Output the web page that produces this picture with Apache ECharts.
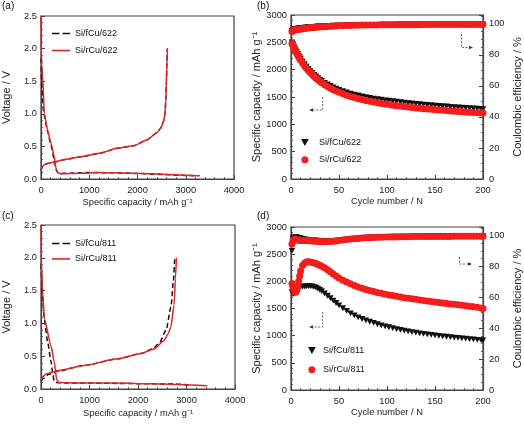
<!DOCTYPE html>
<html><head><meta charset="utf-8">
<script src="https://cdn.jsdelivr.net/npm/echarts@6/dist/echarts.min.js"></script>
<style>html,body{margin:0;padding:0;background:#fff}#c{width:524px;height:424px}</style>
</head><body><div id="c"></div>
<script>
// ---------- DATA ----------
// (a) voltage profiles, 622
const a_f_dis_cap = [0, 8, 30, 60, 137, 206, 274, 310, 345, 400, 600, 1000, 1500, 2000, 2500, 3000, 3250];
const a_f_dis_v   = [1.85, 1.62, 1.25, 1.0, 0.73, 0.52, 0.3, 0.15, 0.1, 0.085, 0.09, 0.1, 0.095, 0.085, 0.07, 0.055, 0.05];
const a_f_ch_cap  = [0, 20, 69, 150, 274, 500, 892, 1235, 1578, 1921, 2196, 2401, 2480, 2539, 2570, 2587, 2600, 2607, 2618];
const a_f_ch_v    = [0.13, 0.18, 0.22, 0.24, 0.26, 0.30, 0.35, 0.40, 0.47, 0.51, 0.60, 0.71, 0.78, 0.88, 1.0, 1.21, 1.5, 1.72, 2.0];
const a_r_dis_cap = [0, 2, 5, 15, 34, 69, 137, 206, 274, 309, 340, 370, 420, 500, 700, 900, 1235, 1500, 1921, 2300, 2607, 2900, 3100, 3293];
const a_r_dis_v   = [2.5, 2.2, 1.95, 1.75, 1.57, 1.0, 0.75, 0.55, 0.35, 0.17, 0.11, 0.09, 0.08, 0.08, 0.085, 0.09, 0.10, 0.095, 0.09, 0.08, 0.07, 0.06, 0.055, 0.05];
const a_r_ch_cap  = [0, 20, 69, 150, 274, 500, 892, 1235, 1578, 1921, 2196, 2401, 2480, 2539, 2570, 2587, 2600, 2607, 2621];
const a_r_ch_v    = [0.13, 0.18, 0.22, 0.24, 0.26, 0.30, 0.35, 0.40, 0.47, 0.51, 0.60, 0.71, 0.78, 0.88, 1.0, 1.21, 1.5, 1.72, 2.0];
// (c) voltage profiles, 811
const c_f_dis_cap = [0, 5, 40, 69, 137, 206, 240, 270, 300, 500, 1000, 1600, 2200, 2800, 3050];
const c_f_dis_v   = [1.9, 1.79, 1.3, 1.05, 0.72, 0.42, 0.25, 0.13, 0.1, 0.09, 0.09, 0.085, 0.08, 0.075, 0.06];
const c_f_ch_cap  = [0, 50, 150, 343, 892, 1578, 2058, 2300, 2440, 2580, 2680, 2730, 2758];
const c_f_ch_v    = [0.12, 0.16, 0.22, 0.27, 0.36, 0.46, 0.54, 0.61, 0.70, 0.90, 1.25, 1.65, 2.0];
const c_r_dis_cap = [0, 3, 34, 69, 206, 274, 322, 357, 500, 1000, 1600, 2264, 2813, 3100, 3430];
const c_r_dis_v   = [2.5, 2.0, 1.5, 1.07, 0.66, 0.41, 0.15, 0.10, 0.095, 0.09, 0.09, 0.08, 0.07, 0.06, 0.05];
const c_r_ch_cap  = [0, 30, 103, 343, 892, 1578, 2058, 2333, 2539, 2620, 2676, 2744, 2772, 2792];
const c_r_ch_v    = [0.13, 0.18, 0.23, 0.28, 0.36, 0.46, 0.54, 0.61, 0.74, 0.84, 0.94, 1.28, 1.68, 2.0];

// cycling data
const cycles = [1,2,3,4,5,6,7,8,9,10,12,14,16,18,20,22,24,26,28,30,32,35,38,41,44,47,50,54,58,62,66,70,74,78,82,86,90,94,98,102,106,110,114,118,122,126,130,134,138,142,146,150,154,158,162,166,170,174,178,182,186,190,194,198,200];
const b_f_cap = [2500,2460,2420,2385,2350,2318,2287,2257,2228,2200,2148,2100,2055,2013,1975,1940,1906,1875,1846,1819,1794,1760,1729,1701,1676,1653,1632,1607,1584,1563,1544,1527,1511,1497,1484,1472,1461,1450,1440,1431,1422,1413,1405,1397,1389,1382,1375,1368,1361,1355,1349,1343,1337,1331,1326,1320,1315,1310,1305,1300,1295,1290,1286,1282,1280];
const b_r_cap = [2480,2440,2400,2365,2330,2297,2265,2234,2204,2176,2122,2073,2027,1985,1946,1910,1876,1844,1814,1786,1760,1724,1691,1661,1634,1609,1586,1558,1533,1510,1489,1470,1453,1437,1422,1408,1395,1383,1372,1361,1351,1342,1333,1324,1316,1308,1301,1294,1287,1280,1274,1268,1262,1256,1251,1246,1241,1236,1231,1227,1222,1218,1214,1210,1208];
const b_f_ce = [95.4,95.9,96.2,96.4,96.6,96.7,96.8,96.9,97.0,97.1,97.3,97.4,97.6,97.7,97.8,97.9,98.0,98.1,98.2,98.2,98.3,98.4,98.5,98.6,98.7,98.8,98.8,98.9,99.0,99.0,99.1,99.1,99.2,99.2,99.3,99.3,99.3,99.4,99.4,99.4,99.4,99.5,99.5,99.5,99.5,99.5,99.5,99.5,99.6,99.6,99.6,99.6,99.6,99.6,99.6,99.6,99.6,99.6,99.6,99.6,99.6,99.6,99.6,99.6,99.6];
const b_r_ce = [95.0,95.5,95.8,96.0,96.1,96.2,96.3,96.4,96.5,96.6,96.8,96.9,97.1,97.2,97.4,97.5,97.6,97.7,97.8,97.9,98.0,98.1,98.2,98.3,98.4,98.5,98.6,98.7,98.8,98.9,99.0,99.0,99.1,99.1,99.2,99.2,99.2,99.3,99.3,99.3,99.3,99.4,99.4,99.4,99.4,99.4,99.4,99.4,99.5,99.5,99.5,99.5,99.5,99.5,99.5,99.5,99.5,99.5,99.5,99.5,99.5,99.5,99.5,99.5,99.5];
const d_f_cap = [1800,1775,1765,1790,1830,1860,1878,1888,1894,1898,1902,1905,1908,1910,1910,1906,1897,1883,1865,1843,1818,1778,1735,1690,1645,1601,1558,1505,1456,1412,1373,1338,1307,1280,1256,1234,1210,1190,1172,1155,1138,1122,1107,1093,1080,1067,1055,1044,1033,1023,1013,1004,996,988,980,972,965,958,951,944,937,930,923,918,915];
const d_r_cap = [1960,1900,1850,1810,1800,1835,1910,2000,2100,2190,2290,2335,2355,2360,2355,2348,2338,2326,2312,2296,2278,2250,2215,2175,2135,2097,2062,2022,1986,1954,1925,1898,1873,1851,1831,1812,1795,1779,1764,1750,1737,1724,1712,1700,1689,1678,1668,1658,1648,1639,1630,1621,1612,1603,1594,1585,1576,1567,1558,1549,1540,1531,1521,1508,1500];
const d_f_ce = [90.0,98.0,98.6,98.8,98.8,98.7,98.6,98.4,98.3,98.1,97.8,97.5,97.3,97.1,97.0,96.9,96.8,96.7,96.6,96.5,96.4,96.3,96.3,96.4,96.5,96.7,96.9,97.2,97.5,97.8,98.0,98.2,98.4,98.6,98.7,98.8,98.9,99.0,99.1,99.1,99.2,99.2,99.3,99.3,99.3,99.4,99.4,99.4,99.4,99.5,99.5,99.5,99.5,99.5,99.5,99.5,99.6,99.6,99.6,99.6,99.6,99.6,99.6,99.6,99.6];
const d_r_ce = [94.5,96.5,97.4,97.8,97.6,97.3,97.1,97.0,96.9,96.9,96.8,96.8,96.7,96.6,96.6,96.5,96.4,96.3,96.2,96.1,96.0,96.0,96.0,96.1,96.3,96.5,96.8,97.1,97.4,97.7,97.9,98.1,98.3,98.5,98.6,98.7,98.8,98.9,99.0,99.0,99.1,99.1,99.2,99.2,99.2,99.3,99.3,99.3,99.3,99.4,99.4,99.4,99.4,99.4,99.4,99.4,99.5,99.5,99.5,99.5,99.5,99.5,99.5,99.5,99.5];

const namesA = ['a:Si/fCu/622', 'a:Si/rCu/622'];
const namesB = ['b:Si/fCu/622', 'b:Si/rCu/622'];
const namesC = ['c:Si/fCu/811', 'c:Si/rCu/811'];
const namesD = ['d:Si/fCu/811', 'd:Si/rCu/811'];

// ---------- STYLE ----------
const FONT = "'Liberation Sans',Arial,sans-serif";
const AX = '#444';
const RED_L = '#e02428';
const RED_M = '#f41c1c';
const BLK = '#111';
const TRI = 'path://M0,0L10,0L5,9Z';
const ICON_DASH = 'path://M0,0H7.5V1.6H0Z M10.5,0H18V1.6H10.5Z';
const ICON_SOLID = 'path://M0,0H18V1.6H0Z';
const TICK_FS = 9.3;
const XNAME_FS = 9.3;
const YNAME_FS = 11;

const zip = (xs, ys) => xs.map((x, i) => [x, ys[i]]);

function lbl(extra) {
  return Object.assign({ fontFamily: FONT, fontSize: TICK_FS, color: '#222', formatter: v => String(v) }, extra);
}
function axisBase(extra, nameFs) {
  return Object.assign({
    type: 'value',
    axisLine: { show: true, onZero: false, lineStyle: { color: AX, width: 1.2 } },
    axisTick: { show: true, inside: true, length: 4, lineStyle: { color: AX, width: 1 } },
    minorTick: { show: true, splitNumber: 5, length: 2, lineStyle: { color: AX, width: 0.8 } },
    splitLine: { show: false },
    nameLocation: 'middle',
    nameTextStyle: { fontFamily: FONT, fontSize: nameFs, color: '#222' }
  }, extra);
}
const capName = 'Specific capacity / mAh g\u207B\u00B9';

const grids = [
  { left: 40, right: 290, top: 16, bottom: 245 },
  { left: 291, right: 40, top: 15, bottom: 245 },
  { left: 40, right: 289, top: 225, bottom: 35 },
  { left: 291, right: 40, top: 227, bottom: 34 }
].map(g => Object.assign({ show: true, borderColor: AX, borderWidth: 1.2, backgroundColor: 'transparent' }, g));

const xAxes = [
  axisBase({ gridIndex: 0, min: 0, max: 4000, interval: 1000, name: capName, nameGap: 19, axisLabel: lbl({ margin: 7 }) }, XNAME_FS),
  axisBase({ gridIndex: 1, min: 0, max: 200, interval: 50, name: 'Cycle number / N', nameGap: 18, axisLabel: lbl({ margin: 7 }) }, XNAME_FS),
  axisBase({ gridIndex: 2, min: 0, max: 4000, interval: 1000, name: capName, nameGap: 20, axisLabel: lbl({ margin: 7 }) }, XNAME_FS),
  axisBase({ gridIndex: 3, min: 0, max: 200, interval: 50, name: 'Cycle number / N', nameGap: 18, axisLabel: lbl({ margin: 7 }) }, XNAME_FS)
];
const ceFmt = v => (Math.abs(v % 20) < 1e-6 ? String(v) : '');
const ceMinor = { show: true, splitNumber: 4, length: 2, lineStyle: { color: AX, width: 0.8 } };
const yAxes = [
  axisBase({ gridIndex: 0, min: 0, max: 2.5, interval: 0.5, name: 'Voltage / V', nameGap: 29, axisLabel: lbl({ margin: 4, formatter: v => v.toFixed(1) }) }, YNAME_FS),
  axisBase({ gridIndex: 1, min: 0, max: 3000, interval: 500, name: capName, nameGap: 29, axisLabel: lbl({ margin: 4 }) }, YNAME_FS),
  axisBase({ gridIndex: 1, min: 0, max: 105.6, interval: 20, position: 'right', name: 'Coulombic efficiency / %', nameGap: 29, minorTick: ceMinor, axisLabel: lbl({ margin: 6, formatter: ceFmt, showMaxLabel: false }) }, YNAME_FS),
  axisBase({ gridIndex: 2, min: 0, max: 2.5, interval: 0.5, name: 'Voltage / V', nameGap: 29, axisLabel: lbl({ margin: 4, formatter: v => v.toFixed(1) }) }, YNAME_FS),
  axisBase({ gridIndex: 3, min: 0, max: 3000, interval: 500, name: capName, nameGap: 29, axisLabel: lbl({ margin: 4 }) }, YNAME_FS),
  axisBase({ gridIndex: 3, min: 0, max: 105.5, interval: 20, position: 'right', name: 'Coulombic efficiency / %', nameGap: 29, minorTick: ceMinor, axisLabel: lbl({ margin: 6, formatter: ceFmt, showMaxLabel: false }) }, YNAME_FS)
];

function vLine(name, xi, yi, caps, vs, color, dashed) {
  return {
    type: 'line', name, xAxisIndex: xi, yAxisIndex: yi, data: zip(caps, vs),
    symbol: 'none', smooth: 0.2, smoothMonotone: 'x', animation: false,
    lineStyle: { color, width: 1.5, type: dashed ? [5, 3] : 'solid' },
    itemStyle: { color }
  };
}
function scat(name, xi, yi, vals, isRed) {
  return {
    type: 'scatter', name, xAxisIndex: xi, yAxisIndex: yi, data: zip(cycles, vals),
    symbol: isRed ? 'circle' : TRI, symbolSize: isRed ? 7 : [6.5, 5.8], animation: false,
    itemStyle: { color: isRed ? RED_M : BLK, opacity: 1 }
  };
}

const series = [
  vLine(namesA[0], 0, 0, a_f_dis_cap, a_f_dis_v, BLK, true),
  vLine(namesA[0], 0, 0, a_f_ch_cap, a_f_ch_v, BLK, true),
  vLine(namesA[1], 0, 0, a_r_dis_cap, a_r_dis_v, RED_L, false),
  vLine(namesA[1], 0, 0, a_r_ch_cap, a_r_ch_v, RED_L, false),
  scat(namesB[0], 1, 1, b_f_cap, false),
  scat(namesB[0], 1, 2, b_f_ce, false),
  scat(namesB[1], 1, 1, b_r_cap, true),
  scat(namesB[1], 1, 2, b_r_ce, true),
  vLine(namesC[0], 2, 3, c_f_dis_cap, c_f_dis_v, BLK, true),
  vLine(namesC[0], 2, 3, c_f_ch_cap, c_f_ch_v, BLK, true),
  vLine(namesC[1], 2, 3, c_r_dis_cap, c_r_dis_v, RED_L, false),
  vLine(namesC[1], 2, 3, c_r_ch_cap, c_r_ch_v, RED_L, false),
  scat(namesD[0], 3, 4, d_f_cap, false),
  scat(namesD[0], 3, 5, d_f_ce, false),
  scat(namesD[1], 3, 4, d_r_cap, true),
  scat(namesD[1], 3, 5, d_r_ce, true)
];

const legFmt = n => n.split(':')[1];
const legText = { fontFamily: FONT, fontSize: 9, color: '#111' };
const legends = [
  { data: [{ name: namesA[0], icon: ICON_DASH }, { name: namesA[1], icon: ICON_SOLID }], left: 52, top: 29, itemWidth: 18, itemHeight: 10, itemGap: 8 },
  { data: [{ name: namesB[0], icon: TRI }, { name: namesB[1], icon: 'circle' }], left: 301, top: 138, itemWidth: 18, itemHeight: 7, itemGap: 8.3 },
  { data: [{ name: namesC[0], icon: ICON_DASH }, { name: namesC[1], icon: ICON_SOLID }], left: 52, top: 239, itemWidth: 18, itemHeight: 10, itemGap: 6.4 },
  { data: [{ name: namesD[0], icon: TRI }, { name: namesD[1], icon: 'circle' }], left: 308, top: 346, itemWidth: 12, itemHeight: 7, itemGap: 10.3 }
].map(l => Object.assign({ orient: 'vertical', padding: 0, formatter: legFmt, textStyle: legText, selectedMode: false }, l));

function arrow(pts, head) {
  return [
    { type: 'polyline', shape: { points: pts }, style: { stroke: '#555', lineWidth: 0.9, lineDash: [2, 1.5], fill: null }, silent: true },
    { type: 'polygon', shape: { points: head }, style: { fill: '#333' }, silent: true }
  ];
}
const labelStyle = { fontFamily: FONT, fontSize: 10, fill: '#111' };
const graphic = [
  { type: 'text', left: 2, top: 1, style: Object.assign({ text: '(a)' }, labelStyle) },
  { type: 'text', left: 257, top: 1, style: Object.assign({ text: '(b)' }, labelStyle) },
  { type: 'text', left: 2, top: 211, style: Object.assign({ text: '(c)' }, labelStyle) },
  { type: 'text', left: 257, top: 211, style: Object.assign({ text: '(d)' }, labelStyle) },
  ...arrow([[322.7, 97], [322.7, 110], [312, 110]], [[309, 110], [313, 108.3], [313, 111.7]]),
  ...arrow([[461.5, 34], [461.5, 47.5], [470, 47.5]], [[473, 47.5], [469, 45.8], [469, 49.2]]),
  ...arrow([[322.7, 312], [322.7, 327], [312, 327]], [[309, 327], [313, 325.3], [313, 328.7]]),
  ...arrow([[459.5, 257], [459.5, 264], [469, 264]], [[472, 264], [468, 262.3], [468, 265.7]])
];

const chart = echarts.init(document.getElementById('c'), null, { renderer: 'canvas' });
chart.setOption({
  animation: false,
  backgroundColor: '#fff',
  grid: grids, xAxis: xAxes, yAxis: yAxes, series, legend: legends, graphic
});
</script></body></html>
